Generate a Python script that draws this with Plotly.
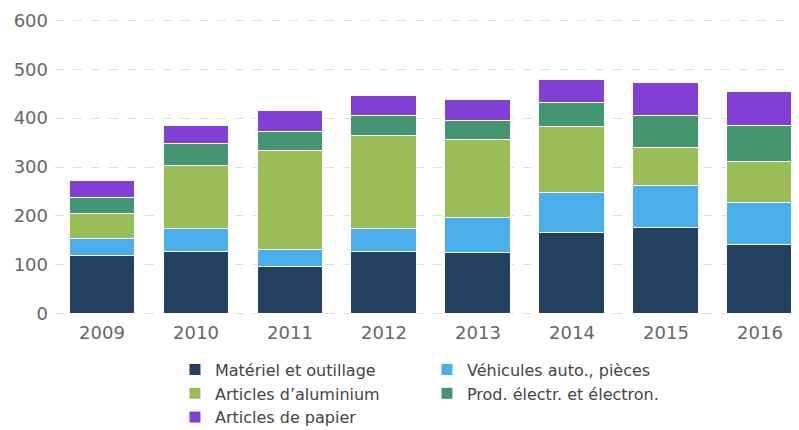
import plotly.graph_objects as go

years = ["2009", "2010", "2011", "2012", "2013", "2014", "2015", "2016"]
series_names = [
    "Matériel et outillage",
    "Véhicules auto., pièces",
    "Articles d’aluminium",
    "Prod. électr. et électron.",
    "Articles de papier",
]
materiel = [118, 126, 96, 126, 124, 165, 176, 141]
vehicules = [36, 48, 36, 48, 72, 83, 86, 86]
aluminium = [50, 130, 202, 190, 160, 134, 78, 85]
electr = [33, 44, 39, 41, 39, 51, 66, 72]
papier = [35, 36, 43, 41, 43, 46, 68, 71]
colors = ["#244060", "#4aaeea", "#9abd58", "#449673", "#813fd6"]
y_ticks = [0, 100, 200, 300, 400, 500, 600]

values = [materiel, vehicules, aluminium, electr, papier]
# legend column for each series (left column / right column)
legend_ids = ["legend", "legend2", "legend", "legend2", "legend"]

fig = go.Figure()
for name, vals, col, lg in zip(series_names, values, colors, legend_ids):
    fig.add_trace(go.Bar(
        x=years, y=vals, name=name, legend=lg,
        marker=dict(color=col, line=dict(color="white", width=1)),
    ))

legend_common = dict(
    orientation="v",
    y=-0.127, yanchor="top",
    font=dict(size=16, color="#444444"),
    traceorder="normal",
    itemclick=False,
    bgcolor="rgba(0,0,0,0)",
)

fig.update_layout(
    barmode="stack",
    bargap=0.298,
    width=791, height=422,
    margin=dict(l=47, r=2, t=11, b=115, autoexpand=False),
    paper_bgcolor="white",
    plot_bgcolor="white",
    font=dict(family="DejaVu Sans", size=16, color="#666666"),
    legend=dict(x=0.1617, xanchor="left", **legend_common),
    legend2=dict(x=0.5013, xanchor="left", **legend_common),
    showlegend=True,
)
fig.update_xaxes(
    range=[-0.5, 7.394],
    showgrid=False, showline=False, ticks="",
    automargin=False,
    ticklabelstandoff=5,
    tickfont=dict(size=18, color="#666666"),
)
fig.update_yaxes(
    range=[-3, 603],
    tickvals=y_ticks,
    showgrid=True, gridcolor="#dddddd", griddash="dash", gridwidth=1,
    zeroline=False, showline=False, ticks="",
    automargin=False,
    ticklabelstandoff=6,
    tickfont=dict(size=18, color="#666666"),
)

fig.write_html("out.html")
